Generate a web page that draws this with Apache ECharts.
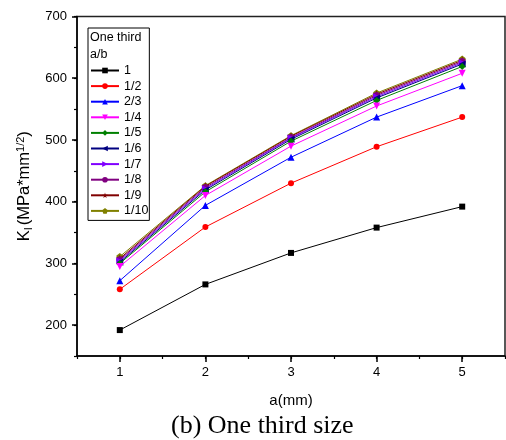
<!DOCTYPE html>
<html><head><meta charset="utf-8">
<script src="https://cdn.jsdelivr.net/npm/echarts@6/dist/echarts.min.js"></script>
<style>html,body{margin:0;padding:0;background:#fff}#c{width:506px;height:440px}</style>
</head><body><div id="c"></div>
<script>
const xValues = [1, 2, 3, 4, 5];
const xTickLabels = [1, 2, 3, 4, 5];
const yTickLabels = [200, 300, 400, 500, 600, 700];
const seriesNames = ['1', '1/2', '2/3', '1/4', '1/5', '1/6', '1/7', '1/8', '1/9', '1/10'];
const s1    = [192, 266, 317, 358, 392];
const s1_2  = [258, 359, 430, 489, 537];
const s2_3  = [272, 394, 472, 537, 588];
const s1_4  = [295, 410, 490, 555, 608];
const s1_5  = [300, 416, 498, 564, 619];
const s1_6  = [302, 419, 501, 568, 623];
const s1_7  = [304, 421, 503, 570, 625];
const s1_8  = [306, 423, 504, 572, 627];
const s1_9  = [308, 425, 506, 574, 629];
const s1_10 = [311, 426, 507, 576, 631];
const seriesValues = [s1, s1_2, s2_3, s1_4, s1_5, s1_6, s1_7, s1_8, s1_9, s1_10];

const colors = ['#000000', '#ff0000', '#0000ff', '#ff00ff', '#008000', '#000080', '#8000ff', '#800080', '#800000', '#808000'];
const star = 'path://M50,0 L61,35 L98,35 L68,57 L79,91 L50,70 L21,91 L32,57 L2,35 L39,35 Z';
const pent = 'path://M50,0 L98,35 L79,91 L21,91 L2,35 Z';
const symbols = ['rect', 'circle', 'triangle', 'triangle', 'diamond', 'triangle', 'triangle', 'circle', star, pent];
const rotates = [0, 0, 0, 180, 0, 90, -90, 0, 0, 0];
const sizes = [6, 6, 7, 7, 7, 7, 7, 7, 8, 7];

const FONT = 'Arial, "Liberation Sans", sans-serif';
const chart = echarts.init(document.getElementById('c'), null, {renderer: 'canvas'});
const series = seriesNames.map((n, i) => ({
  name: n,
  type: 'line',
  xAxisIndex: 0, yAxisIndex: 0,
  data: xValues.map((x, j) => [x, seriesValues[i][j]]),
  symbol: symbols[i],
  symbolRotate: rotates[i],
  symbolSize: sizes[i],
  itemStyle: {color: colors[i]},
  lineStyle: {color: colors[i], width: 1},
  z: 10 - i
}));

chart.setOption({
  animation: false,
  textStyle: {fontFamily: FONT},
  grid: {left: 77, top: 16.5, right: 1, bottom: 84, show: true, borderColor: '#222', borderWidth: 1.5},
  xAxis: [{
    type: 'value', min: 0.5, max: 5.5, interval: 0.5, position: 'bottom',
    axisLine: {show: true, onZero: false, lineStyle: {color: '#000', width: 1.5}},
    axisTick: {show: true, inside: false, length: 6, customValues: xTickLabels, lineStyle: {color: '#000', width: 1.5}},
    splitLine: {show: false},
    axisLabel: {color: '#000', fontSize: 13, margin: 10, customValues: xTickLabels},
    name: 'a(mm)', nameLocation: 'middle', nameGap: 37,
    nameTextStyle: {color: '#000', fontSize: 15}
  }, {
    type: 'value', min: 0.5, max: 5.5, interval: 0.5, position: 'bottom',
    axisLine: {show: false, onZero: false},
    axisTick: {show: true, inside: false, length: 3, lineStyle: {color: '#000', width: 1.2}},
    axisLabel: {show: false}, splitLine: {show: false}
  }],
  yAxis: [{
    type: 'value', min: 150, max: 700, interval: 50, position: 'left',
    axisLine: {show: true, onZero: false, lineStyle: {color: '#000', width: 1.5}},
    axisTick: {show: true, inside: false, length: 5, customValues: yTickLabels, lineStyle: {color: '#000', width: 1.5}},
    splitLine: {show: false},
    axisLabel: {color: '#000', fontSize: 13, margin: 10, customValues: yTickLabels},
    name: '{k|K}{sub|I}{t|(MPa*mm}{sup|1/2}{t|)}',
    nameLocation: 'middle', nameRotate: 90, nameGap: 43,
    nameTextStyle: {
      color: '#000', fontSize: 16.5,
      rich: {
        k: {fontSize: 16.5, color: '#000'},
        t: {fontSize: 16.5, color: '#000'},
        sub: {fontSize: 11, color: '#000', verticalAlign: 'bottom', padding: [8, 2, 0, 0]},
        sup: {fontSize: 11, color: '#000', verticalAlign: 'top', padding: [0, 0, 8, 0]}
      }
    }
  }, {
    type: 'value', min: 150, max: 700, interval: 50, position: 'left',
    axisLine: {show: false, onZero: false},
    axisTick: {show: true, inside: false, length: 3, lineStyle: {color: '#000', width: 1.2}},
    axisLabel: {show: false}, splitLine: {show: false}
  }],
  legend: {
    orient: 'vertical', left: 88, top: 28,
    data: seriesNames,
    itemWidth: 28, itemHeight: 7, itemGap: 2.6,
    padding: [36, 1, 3, 2],
    borderColor: '#000', borderWidth: 1, backgroundColor: '#fff',
    textStyle: {color: '#000', fontSize: 12.5, lineHeight: 13, padding: [0, 0, 0, 0]}
  },
  graphic: [
    {type: 'text', left: 90, top: 31, z: 100, style: {text: 'One third', fontSize: 12.5, fill: '#000', fontFamily: FONT}},
    {type: 'text', left: 90, top: 48, z: 100, style: {text: 'a/b', fontSize: 12.5, fill: '#000', fontFamily: FONT}},
    {type: 'text', left: 171, top: 413, z: 100, style: {text: '(b) One third size', fontSize: 26, fill: '#000', fontFamily: '"Liberation Serif", "Times New Roman", serif'}}
  ],
  series: series
});
</script></body></html>
